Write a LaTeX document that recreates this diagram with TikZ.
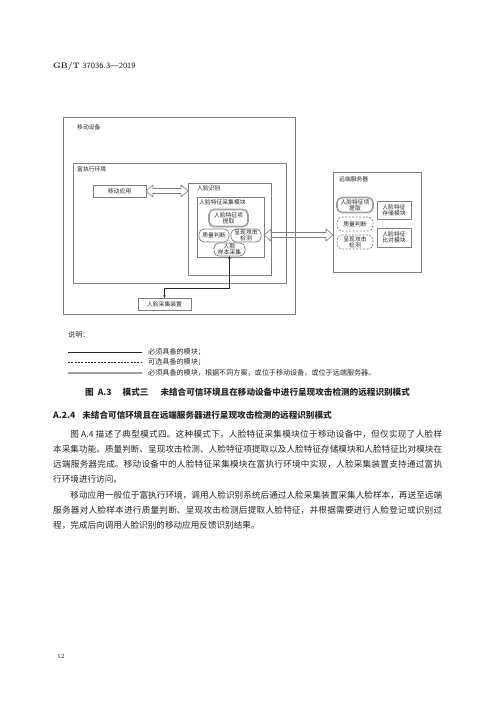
\documentclass[tikz,border=0pt]{standalone}
\usepackage{fontspec}
\newfontfamily\cjk{Noto Sans CJK SC}
\usetikzlibrary{arrows.meta,calc}
\XeTeXlinebreaklocale "zh"
\XeTeXlinebreakskip=0pt plus 1.2pt
\tolerance=10000
\definecolor{lg}{HTML}{7F7F7F}
\definecolor{tg}{HTML}{A0A0A0}
\definecolor{ink}{HTML}{262626}
\newcommand{\hollowarrow}[2]{%
  \draw[hollowline] let \p1=#1, \p2=#2 in
    (\x1,\y1) -- (\x1+7pt,\y1+6pt) -- (\x1+7pt,\y1+2.5pt) -- (\x2-7pt,\y1+2.5pt)
    -- (\x2-7pt,\y1+6pt) -- (\x2,\y1) -- (\x2-7pt,\y1-6pt) -- (\x2-7pt,\y1-2.5pt)
    -- (\x1+7pt,\y1-2.5pt) -- (\x1+7pt,\y1-6pt) -- cycle;}
\begin{document}
\begin{tikzpicture}[x=1pt,y=-1pt,
 box/.style={draw=lg, line width=0.7pt, inner sep=0pt, outer sep=0pt},
 dfont/.style={font=\cjk\fontsize{5.8}{6.3}\selectfont},
 lbl/.style={dfont, anchor=west, inner sep=0pt, text=ink},
 tbox/.style={box, dfont, text=ink, align=center},
 pillbox/.style={tbox, rounded corners=5pt},
 keypill/.style={pillbox, draw=tg, line width=1.6pt},
 optpill/.style={pillbox, dash pattern=on 2pt off 1.5pt},
 hollowline/.style={draw=lg, line width=0.6pt, line join=miter},
 conn/.style={draw=ink, line width=0.5pt, {Stealth[length=3pt,width=2.4pt]}-{Stealth[length=3pt,width=2.4pt]}},
 body/.style={font=\cjk\fontsize{8.6}{15}\selectfont, text=ink, inner sep=0pt, anchor=north west, text width=389pt, align=justify},
 legtext/.style={font=\cjk\fontsize{7.1}{9}\selectfont, text=ink, inner sep=0pt, anchor=west},
 headfont/.style={font=\cjk\bfseries\fontsize{8.6}{10}\selectfont, text=ink, inner sep=0pt, anchor=west},
]
\fill[white] (0,0) rectangle (500,707);
\useasboundingbox (0,0) rectangle (500,707);

% header and page number
\node[anchor=west, inner sep=0pt, text=ink, font=\fontsize{8}{9}\selectfont] (hdr) at (53,66) {\textbf{GB/T} \textsf{37036.3—2019}};
\node[anchor=west, inner sep=0pt, text=ink, font=\fontsize{6.5}{8}\selectfont] (pg) at (57,656) {12};

% containers
\node[box, minimum width=232pt, minimum height=197pt] (dev) at (179,215.5) {};
\node[lbl] (devl) at (77,127) {移动设备};
\node[box, minimum width=213pt, minimum height=120pt] (ree) at (179.5,223) {};
\node[lbl] (reel) at (77,169) {富执行环境};
\node[box, minimum width=83pt, minimum height=92pt] (face) at (229.5,229) {};
\node[lbl] (facel) at (197,188) {人脸识别};
\node[box, minimum width=67pt, minimum height=60pt] (mod) at (230.5,227) {};
\node[lbl] (modl) at (199,202) {人脸特征采集模块};
\node[box, minimum width=88pt, minimum height=100pt] (rem) at (377,222) {};
\node[lbl] (reml) at (339,179) {远端服务器};

% mobile boxes
\node[tbox, minimum width=53pt, minimum height=12pt] (app) at (119.5,191) {移动应用};
\node[tbox, minimum width=53pt, minimum height=12pt] (cam) at (164.5,304) {人脸采集装置};
\node[keypill, minimum width=39pt, minimum height=17pt] (mext) at (228.5,218) {人脸特征项\\提取};
\node[pillbox, minimum width=30pt, minimum height=13pt] (mq) at (214,235.5) {质量判断};
\node[pillbox, minimum width=30pt, minimum height=13pt] (mpad) at (246,235.5) {呈现攻击\\检测};
\node[pillbox, minimum width=31pt, minimum height=13pt] (samp) at (229.5,249.5) {人脸\\样本采集};

% remote boxes
\node[keypill, minimum width=36pt, minimum height=15pt] (rext) at (355,205) {人脸特征项\\提取};
\node[optpill, minimum width=36pt, minimum height=14pt] (rq) at (355,224) {质量判断};
\node[optpill, minimum width=36pt, minimum height=14pt] (rpad) at (355,242) {呈现攻击\\检测};
\node[tbox, minimum width=34pt, minimum height=18pt] (store) at (394,210) {人脸特征\\存储模块};
\node[tbox, minimum width=34pt, minimum height=19pt] (cmp) at (394,237.5) {人脸特征\\比对模块};

% connectors
\hollowarrow{(app.east)}{(face.west |- app.east)}
\coordinate (h2) at (0,235);
\hollowarrow{(mod.east |- h2)}{(rem.west |- h2)}
\coordinate (kink) at (0,288);
\draw[conn] (samp.south) -- (samp.south |- kink) -| (cam.north);

% legend
\node[legtext] (shuo) at (68,335) {说明：};
\draw[ink, line width=0.6pt] (68,352) -- (142,352);
\node[legtext] (l1) at (148,352) {必须具备的模块；};
\draw[ink, line width=0.5pt, dash pattern=on 2pt off 1.3pt] (68,362) -- (142,362);
\node[legtext] (l2) at (148,362) {可选具备的模块；};
\draw[tg, line width=2.6pt] (68,373) -- (142,373);
\node[legtext] (l3) at (148,373) {必须具备的模块，根据不同方案，或位于移动设备，或位于远端服务器。};

% caption and heading
\node[headfont] (cap) at (85,392) {图\hspace{4pt}A.3\hspace{11pt}模式三\hspace{12pt}未结合可信环境且在移动设备中进行呈现攻击检测的远程识别模式};
\node[headfont] (sec) at (53,415) {A.2.4\hspace{7pt}未结合可信环境且在远端服务器进行呈现攻击检测的远程识别模式};

% body
\node[body] (p1) at (53,429.7) {\noindent\hspace*{17.2pt}图 A.4 描述了典型模式四。这种模式下，人脸特征采集模块位于移动设备中，但仅实现了人脸样\linebreak 本采集功能。质量判断、呈现攻击检测、人脸特征项提取以及人脸特征存储模块和人脸特征比对模块在\linebreak 远端服务器完成。移动设备中的人脸特征采集模块在富执行环境中实现，人脸采集装置支持通过富执\linebreak 行环境进行访问。};
\node[body] (p2) at (53,490.7) {\noindent\hspace*{17.2pt}移动应用一般位于富执行环境，调用人脸识别系统后通过人脸采集装置采集人脸样本，再送至远端\linebreak 服务器对人脸样本进行质量判断、呈现攻击检测后提取人脸特征，并根据需要进行人脸登记或识别过\linebreak 程，完成后向调用人脸识别的移动应用反馈识别结果。};
\end{tikzpicture}
\end{document}
